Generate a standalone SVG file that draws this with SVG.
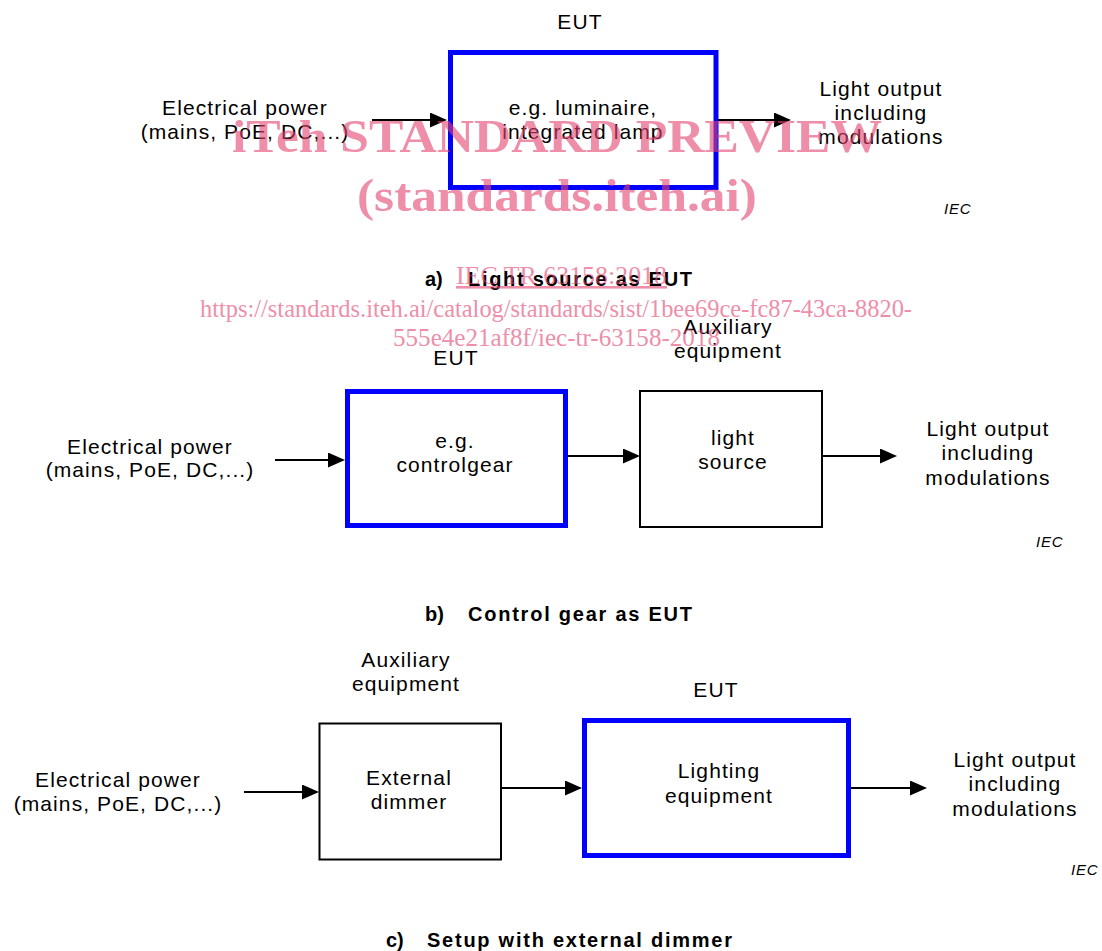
<svg xmlns="http://www.w3.org/2000/svg" width="1102" height="951" viewBox="0 0 1102 951">
<style>
  .t { font-family: "Liberation Sans", Arial, sans-serif; font-size: 21px; letter-spacing: 1.1px; fill: #000; text-anchor: middle; }
  .cap { font-family: "Liberation Sans", Arial, sans-serif; font-size: 20px; font-weight: bold; fill: #000; }
  .iec { font-family: "Liberation Sans", Arial, sans-serif; font-size: 15px; font-style: italic; letter-spacing: 0.8px; fill: #000; }
  .eut { fill: #fff; stroke: #0000ff; stroke-width: 5; }
  .aux { fill: #fff; stroke: #000; stroke-width: 2; }
  .conn { stroke: #000; stroke-width: 2; fill: none; marker-end: url(#arr); }
  .wm { font-family: "Liberation Serif", "Times New Roman", serif; fill: rgb(227,68,113); opacity: 0.6; text-anchor: start; }
</style>
<defs>
  <marker id="arr" markerUnits="userSpaceOnUse" markerWidth="17" markerHeight="15" refX="14" refY="7.5" orient="auto">
    <path d="M0,0 L17,7.5 L0,15 Z" fill="#000"/>
  </marker>
</defs>
<rect width="1102" height="951" fill="#fff"/>

<!-- ===== a) ===== -->
<g id="a-eut-label"><text class="t" x="580" y="29">EUT</text></g>
<g id="a-power"><text class="t" x="245" y="115">Electrical power</text><text class="t" x="245" y="139">(mains, PoE, DC,...)</text></g>
<g id="a-eut">
  <rect class="eut" x="450.5" y="52.5" width="265.5" height="135"/>
  <text class="t" x="583" y="115">e.g. luminaire,</text>
  <text class="t" x="583" y="139">integrated lamp</text>
</g>
<g id="a-light"><text class="t" x="881" y="96">Light output</text><text class="t" x="881" y="120">including</text><text class="t" x="881" y="144">modulations</text></g>
<g id="a-iec"><text class="iec" x="944" y="214">IEC</text></g>
<g id="a-caption"><text class="cap" x="425" y="286">a)</text><text class="cap" x="468" y="286" textLength="224" lengthAdjust="spacing">Light source as EUT</text></g>

<!-- ===== b) ===== -->
<g id="b-eut-label"><text class="t" x="456" y="365">EUT</text></g>
<g id="b-aux-label"><text class="t" x="728" y="334">Auxiliary</text><text class="t" x="728" y="358">equipment</text></g>
<g id="b-power"><text class="t" x="150" y="454">Electrical power</text><text class="t" x="150" y="477">(mains, PoE, DC,...)</text></g>
<g id="b-eut">
  <rect class="eut" x="347.5" y="391.5" width="218" height="134"/>
  <text class="t" x="455" y="448">e.g.</text>
  <text class="t" x="455" y="472">controlgear</text>
</g>
<g id="b-source">
  <rect class="aux" x="640" y="391" width="182" height="136"/>
  <text class="t" x="733" y="445">light</text>
  <text class="t" x="733" y="469">source</text>
</g>
<g id="b-light"><text class="t" x="988" y="436">Light output</text><text class="t" x="988" y="460">including</text><text class="t" x="988" y="485">modulations</text></g>
<g id="b-iec"><text class="iec" x="1036" y="547">IEC</text></g>
<g id="b-caption"><text class="cap" x="425" y="621">b)</text><text class="cap" x="468" y="621" textLength="224" lengthAdjust="spacing">Control gear as EUT</text></g>

<!-- ===== c) ===== -->
<g id="c-aux-label"><text class="t" x="406" y="667">Auxiliary</text><text class="t" x="406" y="691">equipment</text></g>
<g id="c-eut-label"><text class="t" x="716" y="697">EUT</text></g>
<g id="c-power"><text class="t" x="118" y="787">Electrical power</text><text class="t" x="118" y="811">(mains, PoE, DC,...)</text></g>
<g id="c-dimmer">
  <rect class="aux" x="319.5" y="723.5" width="181.5" height="136"/>
  <text class="t" x="409" y="785">External</text>
  <text class="t" x="409" y="809">dimmer</text>
</g>
<g id="c-eut">
  <rect class="eut" x="584.5" y="720.5" width="264" height="135"/>
  <text class="t" x="719" y="778">Lighting</text>
  <text class="t" x="719" y="803">equipment</text>
</g>
<g id="c-light"><text class="t" x="1015" y="767">Light output</text><text class="t" x="1015" y="791">including</text><text class="t" x="1015" y="816">modulations</text></g>
<g id="c-iec"><text class="iec" x="1071" y="875">IEC</text></g>
<g id="c-caption"><text class="cap" x="386" y="947">c)</text><text class="cap" x="427" y="947" textLength="305" lengthAdjust="spacing">Setup with external dimmer</text></g>

<!-- ===== connectors ===== -->
<g id="connectors">
  <line class="conn" x1="372" y1="120" x2="444" y2="120"/>
  <line class="conn" x1="718" y1="120" x2="788" y2="120"/>
  <line class="conn" x1="275" y1="460" x2="342" y2="460"/>
  <line class="conn" x1="568" y1="456" x2="637" y2="456"/>
  <line class="conn" x1="822" y1="456" x2="894" y2="456"/>
  <line class="conn" x1="244" y1="792" x2="316" y2="792"/>
  <line class="conn" x1="501" y1="788" x2="579" y2="788"/>
  <line class="conn" x1="851" y1="788" x2="924" y2="788"/>
</g>

<!-- ===== watermark ===== -->
<g id="watermark">
  <text class="wm" x="232" y="152" font-size="46" font-weight="bold" textLength="650" lengthAdjust="spacingAndGlyphs">iTeh STANDARD PREVIEW</text>
  <text class="wm" x="357" y="211" font-size="46" font-weight="bold" textLength="400" lengthAdjust="spacingAndGlyphs">(standards.iteh.ai)</text>
  <text class="wm" x="456" y="284" font-size="26" textLength="211" lengthAdjust="spacingAndGlyphs" text-decoration="underline">IEC TR 63158:2018</text>
  <text class="wm" x="200" y="317" font-size="26" textLength="712" lengthAdjust="spacingAndGlyphs">https://standards.iteh.ai/catalog/standards/sist/1bee69ce-fc87-43ca-8820-</text>
  <text class="wm" x="393" y="346" font-size="26" textLength="327" lengthAdjust="spacingAndGlyphs">555e4e21af8f/iec-tr-63158-2018</text>
</g>
</svg>
